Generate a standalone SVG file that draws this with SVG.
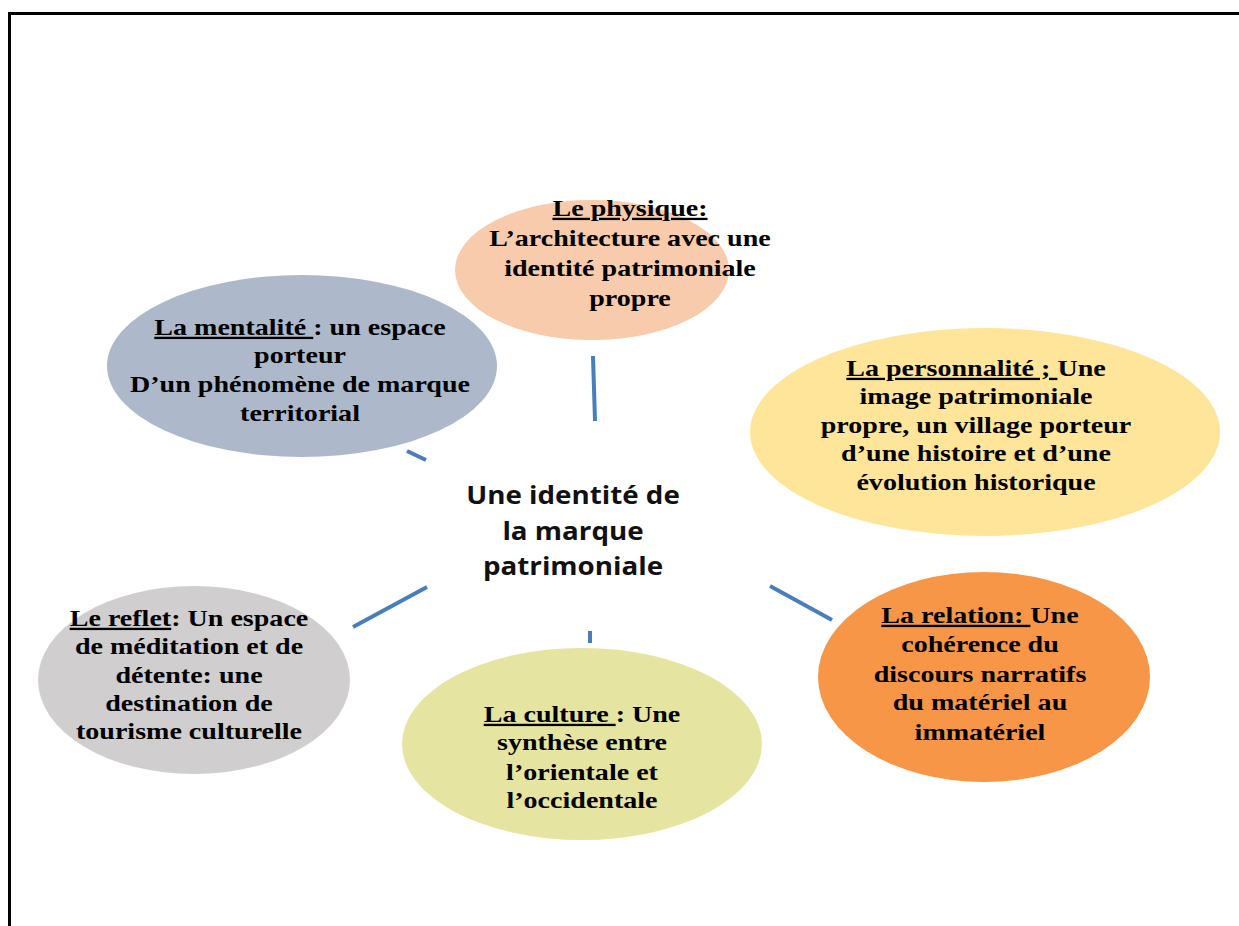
<svg xmlns="http://www.w3.org/2000/svg" width="1239" height="926" viewBox="0 0 1239 926">
<style>
.t{font-family:"Liberation Serif","Times New Roman",serif;font-weight:bold;font-size:23px;fill:#000;text-anchor:middle}
.u{text-decoration:underline}
.c{font-family:"Open Sans","Noto Sans",sans-serif;font-weight:bold;font-size:25px;fill:#111;text-anchor:middle}
.ln{stroke:#4A7EBB;stroke-width:4;fill:none}
</style>
<rect width="1239" height="926" fill="#fff"/>
<path d="M9.5 926 V13.5 H1239" fill="none" stroke="#000" stroke-width="3"/>
<g id="connectors">
<line class="ln" x1="593" y1="356" x2="595" y2="421"/>
<line class="ln" x1="407" y1="451" x2="426" y2="460"/>
<line class="ln" x1="353" y1="627" x2="427" y2="587"/>
<line class="ln" x1="590" y1="631" x2="590" y2="643"/>
<line class="ln" x1="770" y1="586" x2="832" y2="620"/>
</g>
<g id="physique">
<ellipse cx="592" cy="270" rx="137" ry="70" fill="#F7CBAC"/>
<g transform="translate(630 0) scale(1.22 1)">
<text class="t"><tspan x="0" y="216" class="u">Le physique:</tspan><tspan x="0" y="246">L’architecture avec une</tspan><tspan x="0" y="276">identité patrimoniale</tspan><tspan x="0" y="306">propre</tspan></text>
</g>
</g>
<g id="mentalite">
<ellipse cx="302" cy="366" rx="195" ry="91" fill="#ADB9CA"/>
<g transform="translate(300 0) scale(1.22 1)">
<text class="t"><tspan x="0" y="335"><tspan class="u">La mentalité </tspan>: un espace</tspan><tspan x="0" y="363">porteur</tspan><tspan x="0" y="392">D’un phénomène de marque</tspan><tspan x="0" y="421">territorial</tspan></text>
</g>
</g>
<g id="personnalite">
<ellipse cx="985" cy="432" rx="235" ry="104" fill="#FEE599"/>
<g transform="translate(976 0) scale(1.22 1)">
<text class="t"><tspan x="0" y="376"><tspan class="u">La personnalité ; </tspan>Une</tspan><tspan x="0" y="404">image patrimoniale</tspan><tspan x="0" y="433">propre, un village porteur</tspan><tspan x="0" y="461">d’une histoire et d’une</tspan><tspan x="0" y="490">évolution historique</tspan></text>
</g>
</g>
<g id="centre">
<g transform="translate(573 0) scale(1.11 1)">
<text class="c"><tspan x="0" y="504">Une identité de</tspan><tspan x="0" y="540">la marque</tspan><tspan x="0" y="575">patrimoniale</tspan></text>
</g>
</g>
<g id="reflet">
<ellipse cx="194" cy="680" rx="156" ry="94" fill="#D0CECE"/>
<g transform="translate(189 0) scale(1.22 1)">
<text class="t"><tspan x="0" y="626"><tspan class="u">Le reflet</tspan>: Un espace</tspan><tspan x="0" y="654">de méditation et de</tspan><tspan x="0" y="683">détente: une</tspan><tspan x="0" y="711">destination de</tspan><tspan x="0" y="739">tourisme culturelle</tspan></text>
</g>
</g>
<g id="relation">
<ellipse cx="984" cy="677" rx="166" ry="105" fill="#F79646"/>
<g transform="translate(980 0) scale(1.22 1)">
<text class="t"><tspan x="0" y="623"><tspan class="u">La relation: </tspan>Une</tspan><tspan x="0" y="652">cohérence du</tspan><tspan x="0" y="682">discours narratifs</tspan><tspan x="0" y="710">du matériel au</tspan><tspan x="0" y="740">immatériel</tspan></text>
</g>
</g>
<g id="culture">
<ellipse cx="582" cy="744" rx="180" ry="96" fill="#E5E4A1"/>
<g transform="translate(582 0) scale(1.22 1)">
<text class="t"><tspan x="0" y="722"><tspan class="u">La culture </tspan>: Une</tspan><tspan x="0" y="750">synthèse entre</tspan><tspan x="0" y="780">l’orientale et</tspan><tspan x="0" y="808">l’occidentale</tspan></text>
</g>
</g>
</svg>
